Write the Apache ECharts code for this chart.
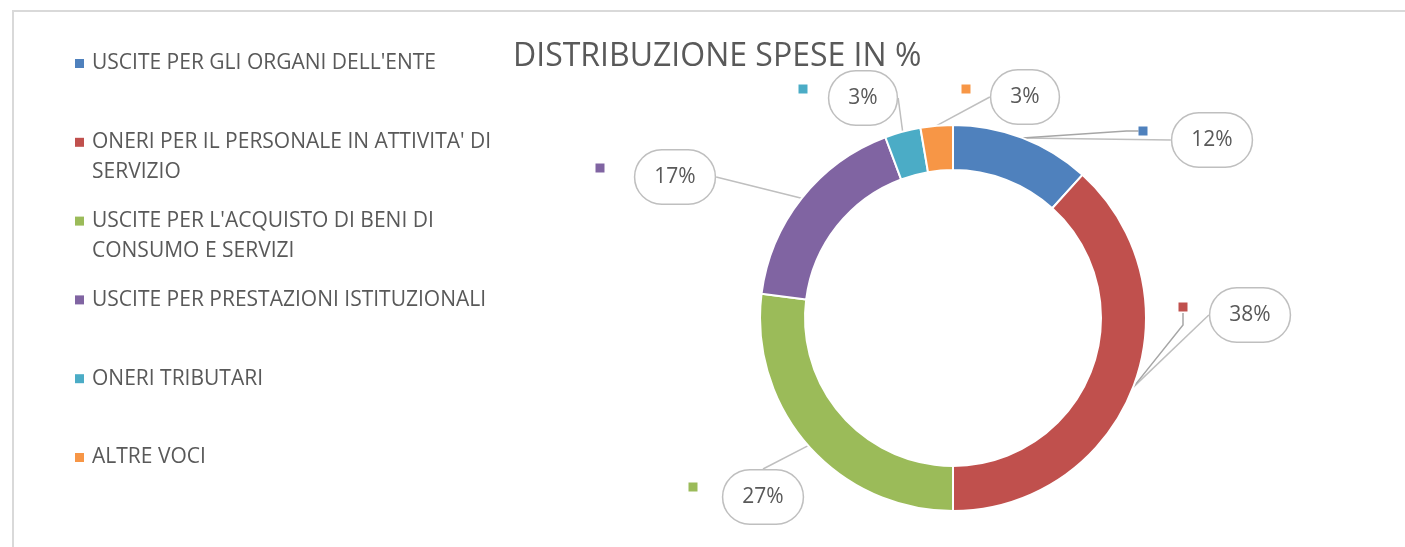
<!DOCTYPE html>
<html>
<head>
<meta charset="utf-8">
<title>Distribuzione spese in %</title>
<script src="https://cdn.jsdelivr.net/npm/echarts@6/dist/echarts.min.js"></script>
<style>
  html, body { margin: 0; padding: 0; overflow: hidden; background: #fff; }
  #chart { width: 1405px; height: 547px; }
  #frame {
    position: absolute; left: 12px; top: 10px; width: 1500px; height: 700px;
    border: 2px solid #d9d9d9; pointer-events: none;
  }
</style>
</head>
<body>
<div id="chart"></div>
<div id="frame"></div>
<script>
// dati
var categories = [
  'USCITE PER GLI ORGANI DELL\'ENTE',
  'ONERI PER IL PERSONALE IN ATTIVITA\' DI SERVIZIO',
  'USCITE PER L\'ACQUISTO DI BENI DI CONSUMO E SERVIZI',
  'USCITE PER PRESTAZIONI ISTITUZIONALI',
  'ONERI TRIBUTARI',
  'ALTRE VOCI'
]
var values = [11.7, 38.3, 27.0, 17.3, 3.0, 2.7]
var colors = ['#4f81bd', '#c0504d', '#9bbb59', '#8064a2', '#4bacc6', '#f79646']

// layout
var cx = 953, cy = 318
var calloutOffsets = [[259, -178], [297, -3], [-190, 179], [-278, -141], [-90, -220], [72, -221]]
var keyOffsets = [[190, -187], [230, -11], [-260, 169], [-353, -150], [-150, -229], [13, -229]]
var legendFirstLine = 63.5, legendStep = 78.8, legendLineHeight = 30
var fontFamily = '"Open Sans", sans-serif'

// a capo per la legenda
var ctx = document.createElement('canvas').getContext('2d')
ctx.font = '21px "Open Sans"'
function wrap(text, maxW) {
  var words = text.split(' '), lines = [], cur = ''
  words.forEach(function (w) {
    var t = cur ? cur + ' ' + w : w
    if (ctx.measureText(t).width > maxW && cur) {
      lines.push(cur)
      cur = w
    } else {
      cur = t
    }
  })
  lines.push(cur)
  return lines
}

var legends = categories.map(function (name, i) {
  var lines = wrap(name, 412)
  // riga vuota in testa: il quadratino resta accanto alla prima riga
  var shown = lines.length > 1 ? '\n' + lines.join('\n') : lines[0]
  var n = lines.length > 1 ? lines.length + 1 : 1
  var firstY = legendFirstLine + i * legendStep
  return {
    data: [name],
    orient: 'vertical',
    left: 75,
    top: firstY - n * legendLineHeight / 2,
    padding: 0,
    icon: 'rect',
    itemWidth: 9,
    itemHeight: 9,
    itemStyle: { borderWidth: 0 },
    selectedMode: false,
    formatter: function () { return shown },
    textStyle: {
      fontFamily: fontFamily,
      fontSize: 21,
      lineHeight: legendLineHeight,
      color: '#595959',
      padding: [0, 0, 0, 3]
    }
  }
})

var keyRich = {}
colors.forEach(function (c, i) {
  keyRich['k' + i] = { width: 9, height: 9, backgroundColor: c }
})

var pieData = categories.map(function (name, i) {
  return { name: name, value: values[i] }
})

var keyData = categories.map(function (name, i) {
  return {
    name: name,
    value: values[i],
    labelLine: { show: i < 2 }
  }
})

var option = {
  color: colors,
  animation: false,
  title: {
    text: 'DISTRIBUZIONE SPESE IN %',
    left: 513,
    top: 41,
    padding: 0,
    textStyle: {
      fontFamily: fontFamily,
      fontSize: 32,
      fontWeight: 'normal',
      color: '#595959'
    }
  },
  legend: legends,
  series: [
    {
      type: 'pie',
      center: [cx, cy],
      radius: [148, 193],
      startAngle: 90,
      avoidLabelOverlap: false,
      silent: true,
      itemStyle: { borderColor: '#fff', borderWidth: 2 },
      label: {
        show: true,
        position: 'outside',
        formatter: function (p) { return '{b|' + Math.round(p.percent) + '%}' },
        rich: {
          b: {
            fontFamily: fontFamily,
            fontSize: 21,
            lineHeight: 22,
            color: '#595959',
            backgroundColor: '#fff',
            borderColor: '#bfbfbf',
            borderWidth: 1.5,
            borderRadius: 27,
            padding: [16, 19]
          }
        }
      },
      labelLine: {
        show: true,
        length: 10,
        length2: 0,
        lineStyle: { color: '#bfbfbf', width: 1.5 }
      },
      labelLayout: function (p) {
        var o = calloutOffsets[p.dataIndex]
        return { x: cx + o[0], y: cy + o[1], align: 'center', verticalAlign: 'middle' }
      },
      data: pieData
    },
    {
      type: 'pie',
      center: [cx, cy],
      radius: [148, 193],
      startAngle: 90,
      avoidLabelOverlap: false,
      silent: true,
      itemStyle: { color: 'rgba(0,0,0,0)', borderWidth: 0 },
      label: {
        show: true,
        position: 'outside',
        formatter: function (p) { return '{k' + p.dataIndex + '|}' },
        rich: keyRich
      },
      labelLine: {
        show: true,
        length: 10,
        length2: 12,
        lineStyle: { color: '#a6a6a6', width: 1.5 }
      },
      labelLayout: function (p) {
        var o = keyOffsets[p.dataIndex]
        return { x: cx + o[0], y: cy + o[1], align: 'center', verticalAlign: 'middle' }
      },
      data: keyData
    }
  ]
}

var chart = echarts.init(document.getElementById('chart'))
chart.setOption(option)
</script>
</body>
</html>
